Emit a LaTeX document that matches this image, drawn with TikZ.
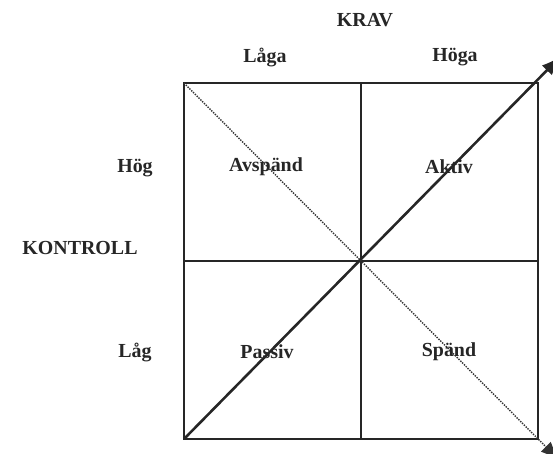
\documentclass[tikz,border=0pt]{standalone}
\usepackage{fontspec}
\setmainfont{Liberation Serif}
\usetikzlibrary{arrows.meta}
\tikzset{
  lbl/.style={font=\fontsize{17}{20}\selectfont\bfseries, text=black!85, inner sep=1pt},
  gridline/.style={line width=1.4pt, black!85},
  diagarr/.style={-{Latex[length=6mm,width=4.2mm]}, line width=2.2pt, black!85},
  dotarr/.style={-{Latex[length=6mm,width=4.2mm]}, line width=1.2pt, densely dotted, black!80},
}
\begin{document}
\begin{tikzpicture}[x=0.03cm,y=-0.03cm]
  \useasboundingbox (0,0) rectangle (553,454);
  % quadrants
  \coordinate (tl) at (184,83);
  \coordinate (br) at (538,439);
  \coordinate (bl) at (184,439);
  \coordinate (tr) at (538,83);
  \draw[gridline] (tl) rectangle (br);
  \draw[gridline] (361,83) -- (361,439);
  \draw[gridline] (184,261) -- (538,261);
  % diagonals
  \coordinate (upend) at (561,56);
  \coordinate (downend) at (560,461);
  \draw[diagarr] (bl) -- (upend);
  \draw[dotarr] (tl) -- (downend);
  % axis labels
  \node[lbl] (krav) at (365,20) {KRAV};
  \node[lbl] (laga) at (265,57) {Låga};
  \node[lbl] (hoga) at (455,57) {Höga};
  \node[lbl] (kontroll) at (80,248) {KONTROLL};
  \node[lbl] (hog) at (135,168) {Hög};
  \node[lbl] (lag) at (135,352) {Låg};
  % cells
  \node[lbl] (avspand) at (266,167) {Avspänd};
  \node[lbl] (aktiv) at (449,167) {Aktiv};
  \node[lbl] (passiv) at (267,352) {Passiv};
  \node[lbl] (spand) at (449,352) {Spänd};
\end{tikzpicture}
\end{document}
